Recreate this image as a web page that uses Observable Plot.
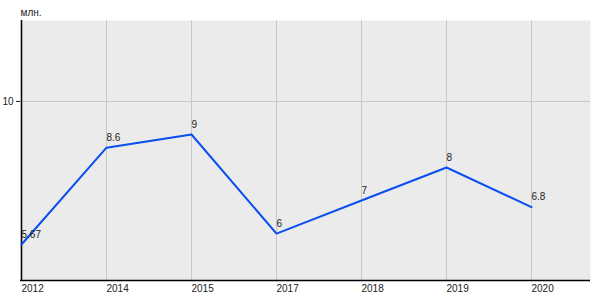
<!DOCTYPE html>
<html>
<head>
<meta charset="utf-8">
<script src="https://cdn.jsdelivr.net/npm/d3@7"></script>
<script src="https://cdn.jsdelivr.net/npm/@observablehq/plot@0.6"></script>
<style>
  html, body { margin: 0; padding: 0; background: #fff; }
  #chart { width: 600px; height: 300px; }
</style>
</head>
<body>
<div id="chart"></div>
<script>
const years = ["2012", "2014", "2015", "2017", "2018", "2019", "2020"];
const values = [5.67, 8.6, 9, 6, 7, 8, 6.8];
const labels = ["5.67", "8.6", "9", "6", "7", "8", "6.8"];
const yTicks = [10];
const unitLabel = "млн.";

const data = years.map((y, i) => ({year: y, value: values[i], label: labels[i]}));
const yMin = 4.58, yMax = 12.45;

const chart = Plot.plot({
  width: 600,
  height: 300,
  marginLeft: 20,
  marginRight: 10,
  marginTop: 20,
  marginBottom: 20,
  style: {fontFamily: "Liberation Sans, Arial, sans-serif", fontSize: "10px", color: "#222", background: "#fff"},
  x: {type: "point", domain: years, range: [20, 531], padding: 0},
  y: {domain: [yMin, yMax]},
  marks: [
    Plot.frame({fill: "#ebebeb", stroke: null}),
    Plot.ruleX(years, {x: d => d, stroke: "#c8c8c8", strokeWidth: 1}),
    Plot.ruleY(yTicks, {y: d => d, stroke: "#c8c8c8", strokeWidth: 1}),
    Plot.ruleY([yMin], {stroke: "#000", strokeWidth: 1.5}),
    Plot.ruleX([years[0]], {stroke: "#000", strokeWidth: 1.5}),
    Plot.axisX({tickSize: 0, tickPadding: 4, textAnchor: "start", label: null, fill: "#222"}),
    Plot.axisY({ticks: yTicks, tickSize: 4, tickPadding: 3, label: null, fill: "#222"}),
    Plot.line(data, {x: "year", y: "value", stroke: "#0a4ef0", strokeWidth: 2}),
    Plot.text(data, {x: "year", y: "value", text: "label", textAnchor: "start", dy: -10, fill: "#222"}),
    Plot.text([unitLabel], {frameAnchor: "top-left", textAnchor: "start", dy: -12, fill: "#222"})
  ]
});
document.getElementById("chart").appendChild(chart);
</script>
</body>
</html>
